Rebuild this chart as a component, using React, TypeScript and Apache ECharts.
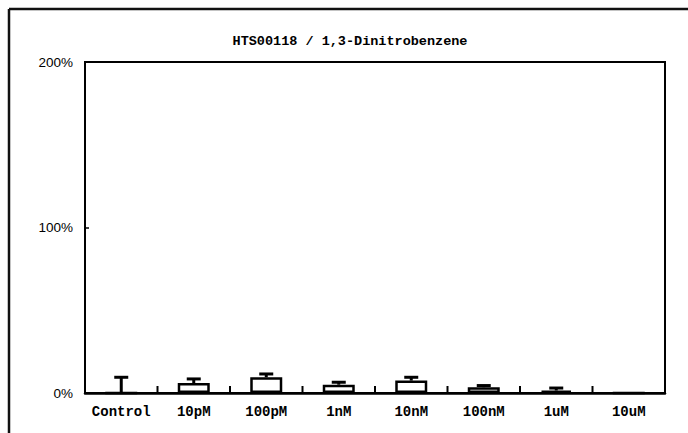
import React, { useEffect, useRef } from "react";
import * as echarts from "echarts";

const title = "HTS00118 / 1,3-Dinitrobenzene";
const categories = ["Control", "10pM", "100pM", "1nM", "10nM", "100nM", "1uM", "10uM"];
const means = [0, 6, 9.5, 5, 7.5, 3.5, 1.5, 0];
const errTops = [9.5, 8.5, 11.5, 6.5, 9.5, 4.5, 3, 0];
const yTicks = [0, 100, 200];

export default function App() {
  const ref = useRef<HTMLDivElement>(null);
  useEffect(() => {
    document.body.style.margin = "0";
    const chart = echarts.init(ref.current!, null, { renderer: "svg" });
    const errData = categories.map((_, i) => [i, means[i], errTops[i]]);
    chart.setOption({
      animation: false,
      backgroundColor: "#ffffff",
      title: {
        text: title,
        left: 345,
        textAlign: "center",
        top: 29,
        textStyle: { fontFamily: "Liberation Mono", fontSize: 13.5, fontWeight: "bold", color: "#000" },
      },
      graphic: [
        {
          type: "line",
          shape: { x1: 9, y1: 9, x2: 688, y2: 9 },
          style: { stroke: "#111", lineWidth: 2.5 },
          z: 100,
          silent: true,
        },
        {
          type: "line",
          shape: { x1: 9, y1: 9, x2: 9, y2: 433 },
          style: { stroke: "#111", lineWidth: 2.5 },
          z: 100,
          silent: true,
        },
      ],
      grid: {
        left: 85,
        top: 62,
        right: 23,
        bottom: 40,
        show: true,
        borderColor: "#000",
        borderWidth: 2,
        backgroundColor: "transparent",
      },
      xAxis: {
        type: "category",
        data: categories,
        boundaryGap: true,
        axisLine: { lineStyle: { color: "#000", width: 2.5 } },
        axisTick: { show: false },
        axisLabel: { color: "#000", fontFamily: "Liberation Mono", fontSize: 14, fontWeight: "bold", margin: 12, interval: 0 },
        splitLine: { show: false },
      },
      yAxis: {
        type: "value",
        min: yTicks[0],
        max: yTicks[yTicks.length - 1],
        interval: 100,
        axisLine: { show: true, lineStyle: { color: "#000", width: 2 } },
        axisTick: { show: true, inside: true, length: 4, lineStyle: { color: "#000", width: 1.5 } },
        axisLabel: { color: "#000", fontFamily: "Liberation Sans", fontSize: 13.5, margin: 12, formatter: "{value}%" },
        splitLine: { show: false },
      },
      series: [
        {
          type: "bar",
          data: means,
          barWidth: 32,
          itemStyle: { color: "#fff", borderColor: "#000", borderWidth: 2.5 },
          z: 2,
        },
        {
          type: "custom",
          data: errData,
          z: 3,
          renderItem: (params: any, api: any) => {
            const x = api.value(0);
            const lo = api.coord([x, api.value(1)]);
            const hi = api.coord([x, api.value(2)]);
            const base = api.coord([x, 0]);
            const band = api.size([1, 0])[0];
            const half = 7;
            const children: any[] = [];
            if (x < categories.length - 1) {
              const tx = base[0] + band / 2;
              children.push({
                type: "line",
                shape: { x1: tx, y1: base[1], x2: tx, y2: base[1] - 7 },
                style: { stroke: "#000", lineWidth: 2 },
              });
            }
            if (api.value(2) > api.value(1)) {
              children.push(
                {
                  type: "line",
                  shape: { x1: lo[0], y1: lo[1], x2: hi[0], y2: hi[1] },
                  style: { stroke: "#000", lineWidth: 3 },
                },
                {
                  type: "line",
                  shape: { x1: hi[0] - half, y1: hi[1], x2: hi[0] + half, y2: hi[1] },
                  style: { stroke: "#000", lineWidth: 3 },
                }
              );
            }
            return { type: "group", children };
          },
        },
      ],
    });
    return () => chart.dispose();
  }, []);
  return <div ref={ref} style={{ width: 688, height: 433 }} />;
}
